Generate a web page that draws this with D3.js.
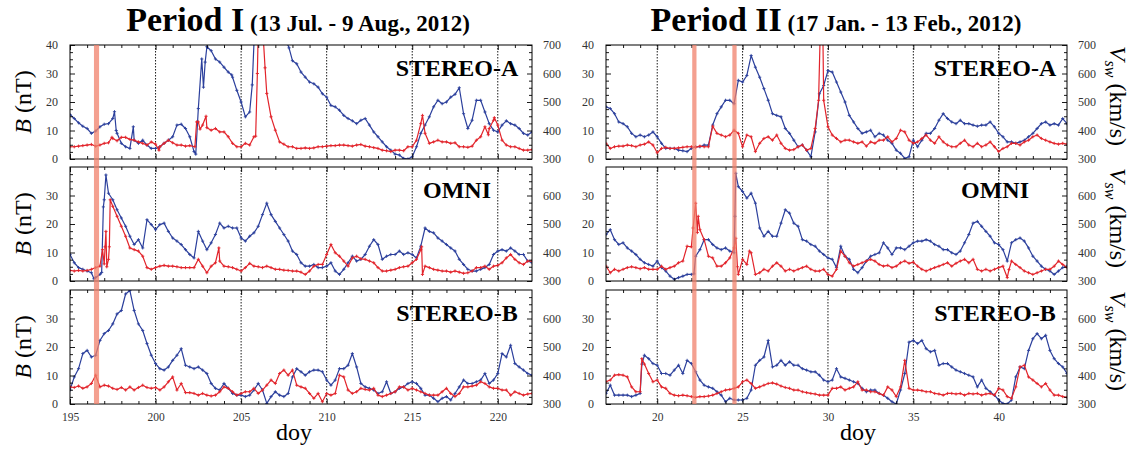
<!DOCTYPE html>
<html>
<head>
<meta charset="utf-8">
<script src="https://cdn.jsdelivr.net/npm/d3@7"></script>
<style>
  body { margin: 0; background: #fff; }
  text { font-family: "Liberation Serif", "Times New Roman", serif; }
</style>
</head>
<body>
<svg id="chart" width="1135" height="455"></svg>
<script>
// ---- Period I (doy 195-222, 2012) : [doy, value] ----
const stereoA1_V = [[195,456],[195.25,442],[195.5,427],[195.75,415],[196,407],[196.25,390],[196.5,398],[196.75,413],[197,422],[197.25,424],[197.5,442],[197.6,466],[197.7,400],[197.75,390],[198,355],[198.25,343],[198.5,337],[198.7,413],[198.75,366],[199,355],[199.25,366],[199.5,349],[199.75,337],[200,337],[200.25,343],[200.5,355],[200.75,366],[201,378],[201.25,419],[201.5,422],[201.75,407],[202,378],[202.25,326],[202.35,317],[202.5,477],[202.7,651],[202.8,552],[202.9,640],[203,694],[203.25,680],[203.5,651],[203.75,640],[204,622],[204.25,605],[204.45,595],[204.5,587],[204.75,541],[205,500],[205.25,448],[205.5,465],[205.65,560],[205.75,705],[206,760],[206.5,790],[207,780],[207.5,740],[207.7,705],[207.8,690],[208,645],[208.25,634],[208.5,605],[208.75,587],[209,570],[209.25,564],[209.5,552],[209.75,529],[210,517],[210.25,488],[210.5,483],[210.75,471],[211,453],[211.25,442],[211.5,434],[211.75,424],[212,436],[212.25,442],[212.5,419],[212.75,395],[213,378],[213.25,360],[213.5,343],[213.75,331],[214,317],[214.25,314],[214.5,302],[214.75,300],[215,308],[215.25,343],[215.5,390],[215.75,419],[216,448],[216.25,483],[216.5,506],[216.75,494],[217,500],[217.25,517],[217.5,527],[217.75,550],[218,459],[218.25,407],[218.5,436],[218.75,506],[219,506],[219.25,465],[219.5,424],[219.75,401],[220,395],[220.25,419],[220.5,434],[220.75,424],[221,419],[221.25,407],[221.5,390],[221.75,384],[222,395]];
const stereoA1_B = [[195,4.3],[195.25,4.3],[195.5,4.5],[195.75,4.7],[196,4.9],[196.25,5.1],[196.5,4.5],[196.75,4.9],[197,5.5],[197.25,5.7],[197.45,7.6],[197.5,7.2],[197.75,6.4],[198,7.6],[198.25,7.6],[198.5,6.9],[198.75,6.6],[199,6],[199.25,5.5],[199.5,4.9],[199.75,6],[200,5.2],[200.2,3.1],[200.25,4.3],[200.5,5.5],[200.75,6.6],[201,5.7],[201.25,4.9],[201.5,4.9],[201.75,4.5],[202,4.7],[202.3,4.3],[202.4,13],[202.5,13],[202.6,10.5],[202.75,11.9],[202.95,15],[203,11],[203.25,10.1],[203.5,10.7],[203.75,9.5],[204,9.5],[204.25,7.8],[204.5,5.5],[204.75,4.3],[205,4.3],[205.25,5.5],[205.5,4.9],[205.75,7.8],[205.85,8],[205.95,30],[206,45],[206.25,50],[206.3,42],[206.4,32],[206.5,23],[206.75,14.8],[207,10.1],[207.25,6],[207.5,5.2],[207.75,4.3],[208,4.3],[208.25,3.7],[208.5,3.7],[208.75,3.9],[209,3.7],[209.25,3.9],[209.5,4.3],[209.75,4.3],[210,4.5],[210.25,4.7],[210.5,4.7],[210.75,4.9],[211,4.9],[211.25,4.7],[211.5,4.5],[211.75,4.9],[212,5.1],[212.25,4.5],[212.5,4.3],[212.75,4],[213,3.7],[213.25,3.1],[213.5,2.9],[213.75,2.6],[214,3.1],[214.25,3.1],[214.5,2.9],[214.75,4.3],[215,4.3],[215.25,6.6],[215.5,12.4],[215.6,15.3],[215.75,9],[216,5.5],[216.25,6],[216.5,6.6],[216.75,6],[217,6],[217.25,5.5],[217.5,5.7],[217.75,4.3],[218,4.3],[218.25,4.1],[218.5,4.5],[218.75,6.6],[219,7.8],[219.25,11.3],[219.45,8.5],[219.5,10.7],[219.75,13.6],[219.8,14.5],[220,11.9],[220.25,6.6],[220.5,4.9],[220.75,4.3],[221,4.3],[221.25,3.7],[221.5,3.1],[221.75,3.1],[222,3.3]];
const omni1_V = [[195,393],[195.25,364],[195.5,347],[195.75,341],[196,335],[196.25,329],[196.4,308],[196.5,312],[196.75,323],[196.85,330],[196.95,560],[197,585],[197.1,672],[197.25,608],[197.5,585],[197.75,550],[198,521],[198.25,492],[198.5,457],[198.75,428],[199,445],[199.25,416],[199.5,515],[199.75,498],[200,480],[200.25,498],[200.5,503],[200.75,474],[201,451],[201.25,440],[201.5,428],[201.75,410],[202,393],[202.25,381],[202.5,474],[202.75,440],[203,410],[203.25,434],[203.5,463],[203.75,503],[204,486],[204.25,492],[204.5,486],[204.75,486],[205,451],[205.25,440],[205.5,457],[205.75,469],[206,492],[206.25,533],[206.5,573],[206.75,533],[207,509],[207.25,486],[207.5,463],[207.75,440],[208,405],[208.25,393],[208.5,364],[208.75,352],[209,352],[209.25,358],[209.5,347],[209.75,347],[210,352],[210.25,364],[210.5,335],[210.75,323],[211,341],[211.25,364],[211.5,387],[211.75,370],[212,376],[212.25,393],[212.5,422],[212.75,445],[213,428],[213.25,376],[213.5,387],[213.75,393],[214,393],[214.25,405],[214.5,393],[214.75,399],[215,393],[215.25,381],[215.5,422],[215.75,486],[216,474],[216.25,469],[216.5,451],[216.75,440],[217,428],[217.25,416],[217.5,405],[217.75,376],[218,358],[218.25,341],[218.5,335],[218.75,335],[219,341],[219.25,347],[219.5,358],[219.75,393],[220,405],[220.25,410],[220.5,405],[220.75,416],[221,405],[221.25,393],[221.5,393],[221.75,370],[222,364]];
const omni1_B = [[195,3.7],[195.25,3.5],[195.5,3.7],[195.75,3.5],[196,3.7],[196.25,4.1],[196.5,4.7],[196.75,5.2],[196.9,11],[197,6],[197.05,12],[197.1,17.4],[197.15,5],[197.25,7.6],[197.3,12],[197.35,28.5],[197.5,26.2],[197.75,22.7],[198,19.2],[198.25,15.7],[198.5,11.6],[198.75,11],[199,10.5],[199.25,8.7],[199.5,4.7],[199.75,4.1],[200,4.7],[200.25,5.2],[200.5,5.5],[200.75,5.2],[201,5.2],[201.25,5],[201.5,4.7],[201.75,4.7],[202,4.7],[202.25,4.7],[202.5,7.6],[202.75,5.2],[203,2.9],[203.25,5.2],[203.5,6.4],[203.7,11.6],[203.75,7],[204,5.2],[204.25,5],[204.5,4.7],[204.75,4.1],[205,3.5],[205.25,4.7],[205.5,6.2],[205.75,5.2],[206,5],[206.25,4.7],[206.5,5.2],[206.75,4.7],[207,4.1],[207.25,4.1],[207.5,3.8],[207.75,3.7],[208,3.5],[208.25,3.5],[208.5,3.1],[208.75,2.3],[209,3.5],[209.25,5.2],[209.5,5.8],[209.75,5.8],[210,9.3],[210.25,12.8],[210.5,9.9],[210.75,8.7],[211,7],[211.25,5.2],[211.5,8.1],[211.75,8.7],[212,7.8],[212.25,7.6],[212.5,7],[212.75,6.4],[213,4.7],[213.25,3.5],[213.5,3.5],[213.75,3.8],[214,4.1],[214.25,4.7],[214.5,5],[214.75,5.2],[215,6.4],[215.25,7.6],[215.5,11],[215.55,12],[215.6,2.3],[215.75,5.2],[216,4.7],[216.25,4.1],[216.5,3.8],[216.75,3.5],[217,3.5],[217.25,3.1],[217.5,3.5],[217.75,3.1],[218,2.7],[218.25,2.9],[218.5,3.5],[218.75,4.7],[219,4.7],[219.25,5.2],[219.5,4.1],[219.75,5.2],[220,5.5],[220.25,6.4],[220.5,8.1],[220.75,9.3],[221,7.6],[221.25,6.4],[221.5,5.8],[221.75,7],[222,7]];
const stereoB1_V = [[195,349],[195.25,395],[195.5,424],[195.75,477],[196,488],[196.25,465],[196.5,471],[196.75,523],[197,547],[197.25,558],[197.5,581],[197.75,616],[198,628],[198.25,686],[198.5,698],[198.75,628],[199,581],[199.25,558],[199.5,512],[199.75,471],[200,442],[200.25,424],[200.5,419],[200.75,430],[201,453],[201.25,471],[201.5,494],[201.75,436],[202,430],[202.25,424],[202.5,430],[202.75,419],[203,407],[203.25,372],[203.5,355],[203.75,349],[204,372],[204.25,355],[204.5,337],[204.75,331],[205,331],[205.25,326],[205.5,331],[205.75,349],[206,372],[206.25,349],[206.5,302],[206.75,326],[207,343],[207.25,331],[207.5,326],[207.75,337],[208,395],[208.25,424],[208.5,413],[208.75,401],[209,413],[209.25,419],[209.5,419],[209.75,413],[210,384],[210.25,366],[210.5,384],[210.75,424],[211,424],[211.25,436],[211.5,477],[211.75,430],[212,372],[212.25,360],[212.5,355],[212.75,349],[213,337],[213.25,343],[213.5,378],[213.75,337],[214,343],[214.25,355],[214.5,360],[214.75,372],[215,378],[215.25,372],[215.5,355],[215.75,331],[216,331],[216.25,320],[216.5,308],[216.75,320],[217,326],[217.25,314],[217.5,337],[217.75,360],[218,384],[218.25,372],[218.5,372],[218.75,378],[219,384],[219.25,407],[219.5,372],[219.75,384],[220,407],[220.25,477],[220.5,465],[220.75,506],[221,442],[221.25,430],[221.5,419],[221.75,407],[222,401]];
const stereoB1_B = [[195,6],[195.25,5.8],[195.5,6.3],[195.75,5.5],[196,6],[196.25,7.2],[196.5,10.1],[196.75,6],[197,6.6],[197.25,6.3],[197.5,5.5],[197.75,5.1],[198,5.8],[198.25,4.9],[198.5,6],[198.75,4.9],[199,5.8],[199.25,6.6],[199.5,5.8],[199.75,5.5],[200,5.8],[200.25,4.9],[200.5,6],[200.75,7.8],[201,9.5],[201.25,4.9],[201.5,7.2],[201.75,4],[202,4],[202.25,3.7],[202.5,3.1],[202.75,3.7],[203,3.1],[203.25,2.8],[203.5,3.1],[203.75,4.3],[204,6],[204.25,5.5],[204.5,4.3],[204.75,3.1],[205,3.7],[205.25,4.3],[205.5,4.3],[205.75,5.5],[206,3.7],[206.25,4.9],[206.5,6.6],[206.75,8.4],[207,7.2],[207.25,10.7],[207.5,11.9],[207.75,10.1],[208,11.9],[208.25,6.6],[208.5,6],[208.75,5.5],[209,3.7],[209.25,2],[209.5,3.7],[209.75,0.8],[210,3.7],[210.25,3.1],[210.5,3.7],[210.75,10.1],[211,9.5],[211.25,4.9],[211.5,3.7],[211.75,4.3],[212,5.5],[212.25,5.1],[212.5,4.9],[212.75,5.5],[213,3.1],[213.25,2.6],[213.5,3.1],[213.75,3.7],[214,4.3],[214.25,6],[214.5,6],[214.75,4.9],[215,5.5],[215.25,4.9],[215.5,4.3],[215.75,3.7],[216,3.1],[216.25,3.1],[216.5,3.1],[216.75,4.3],[217,5.5],[217.25,3.7],[217.5,2.6],[217.75,3.7],[218,6],[218.25,6],[218.5,6.3],[218.75,6.6],[219,7.8],[219.25,7.2],[219.5,6],[219.75,5.5],[220,5.5],[220.25,4.9],[220.5,4.9],[220.75,3.1],[221,4.3],[221.25,3.7],[221.5,3.1],[221.75,3.5],[222,3.7]];

// ---- Period II (doy 17-44, 2012) : [doy, value] ----
const stereoA2_V = [[17,483],[17.25,477],[17.5,459],[17.75,430],[18,424],[18.25,413],[18.5,390],[18.75,378],[19,384],[19.25,378],[19.5,384],[19.75,395],[20,378],[20.25,355],[20.5,337],[20.75,337],[21,337],[21.25,331],[21.5,329],[21.75,326],[22,337],[22.25,343],[22.5,343],[22.75,349],[23,349],[23.25,419],[23.5,459],[23.75,483],[24,506],[24.25,506],[24.5,494],[24.75,576],[25,570],[25.25,593],[25.5,663],[25.75,622],[26,587],[26.25,547],[26.5,506],[26.75,459],[27,453],[27.25,448],[27.5,407],[27.75,390],[28,366],[28.25,343],[28.5,349],[28.75,331],[29,308],[29.25,395],[29.5,529],[29.75,558],[30,610],[30.25,605],[30.5,570],[30.75,535],[31,500],[31.25,453],[31.5,430],[31.75,407],[32,390],[32.25,395],[32.5,401],[32.75,378],[33,390],[33.25,384],[33.5,366],[33.75,355],[34,331],[34.25,320],[34.5,302],[34.75,308],[35,366],[35.25,343],[35.5,366],[35.75,390],[36,390],[36.25,407],[36.5,436],[36.75,459],[37,442],[37.25,430],[37.5,424],[37.75,436],[38,424],[38.25,424],[38.5,419],[38.75,415],[39,419],[39.25,419],[39.5,430],[39.75,413],[40,390],[40.25,378],[40.5,360],[40.75,360],[41,355],[41.25,360],[41.5,366],[41.75,378],[42,390],[42.25,407],[42.5,424],[42.75,430],[43,419],[43.25,424],[43.5,419],[43.75,442],[44,424]];
const stereoA2_B = [[17,5.5],[17.25,3.7],[17.5,4.3],[17.75,4.5],[18,4.5],[18.25,4.9],[18.5,4.7],[18.75,4.3],[19,4.9],[19.25,5.2],[19.5,6],[19.75,4.9],[20,2.2],[20.25,3.7],[20.5,4.1],[20.75,3.7],[21,3.7],[21.25,3.9],[21.5,4.1],[21.75,4.3],[22,4.3],[22.25,4.1],[22.5,4.5],[22.75,4.3],[23,4.3],[23.25,11.5],[23.5,9],[23.75,8.4],[24,7.8],[24.25,8.4],[24.5,10.1],[24.75,9],[25,4.3],[25.25,8.4],[25.5,7.8],[25.75,2.6],[26,5.5],[26.25,7.2],[26.5,7.8],[26.75,6.6],[27,8.4],[27.25,5.5],[27.5,3.7],[27.75,3.1],[28,3.3],[28.25,4.3],[28.5,4.9],[28.75,3.1],[29,3.7],[29.25,10.7],[29.45,20.6],[29.55,45],[29.7,45],[29.75,20.6],[30,11.3],[30.25,8.4],[30.5,7.2],[30.75,6],[31,6.6],[31.25,6.6],[31.5,6],[31.75,5.5],[32,6],[32.25,4.5],[32.5,6],[32.75,5.5],[33,6.6],[33.25,6.6],[33.5,7.8],[33.75,6],[34,7.2],[34.25,10.1],[34.5,9.5],[34.75,6.6],[35,5.5],[35.25,6],[35.5,7.2],[35.75,8.4],[36,6.6],[36.25,5.5],[36.5,7.8],[36.75,6],[37,4.9],[37.25,4.3],[37.5,4.3],[37.75,5.5],[38,6.6],[38.25,4.9],[38.5,4.3],[38.75,5.5],[39,4.3],[39.25,4.9],[39.5,6],[39.75,4.3],[40,2.6],[40.25,3.7],[40.5,4.3],[40.75,5.5],[41,5.5],[41.25,4.9],[41.5,6],[41.75,6.6],[42,7.8],[42.25,8.4],[42.5,7.2],[42.75,6.6],[43,6],[43.25,5.5],[43.5,5.2],[43.75,5.5],[44,5.2]];
const omni2_V = [[17,463],[17.25,480],[17.5,445],[17.75,428],[18,434],[18.25,416],[18.5,405],[18.75,393],[19,376],[19.25,364],[19.5,358],[19.75,352],[20,370],[20.25,347],[20.5,335],[20.75,317],[21,306],[21.25,312],[21.5,317],[21.75,323],[22,323],[22.15,325],[22.25,387],[22.5,410],[22.75,445],[23,445],[23.25,428],[23.5,416],[23.75,410],[24,416],[24.25,405],[24.5,399],[24.55,527],[24.6,678],[24.75,631],[25,614],[25.25,591],[25.5,608],[25.75,573],[26,486],[26.25,457],[26.5,474],[26.75,457],[27,457],[27.25,503],[27.5,550],[27.75,538],[28,503],[28.25,492],[28.5,445],[28.75,440],[29,428],[29.25,422],[29.5,405],[29.75,393],[30,381],[30.25,376],[30.5,347],[30.75,422],[31,387],[31.25,376],[31.5,341],[31.75,329],[32,347],[32.25,370],[32.5,387],[32.75,393],[33,399],[33.25,434],[33.5,416],[33.75,393],[34,416],[34.25,416],[34.5,410],[34.75,422],[35,434],[35.25,440],[35.5,440],[35.75,445],[36,440],[36.25,428],[36.5,422],[36.75,410],[37,410],[37.25,399],[37.5,393],[37.75,405],[38,434],[38.25,463],[38.5,503],[38.75,509],[39,492],[39.25,474],[39.5,457],[39.75,434],[40,428],[40.25,410],[40.5,370],[40.75,434],[41,445],[41.25,451],[41.5,440],[41.75,416],[42,387],[42.25,370],[42.5,352],[42.75,341],[43,335],[43.25,323],[43.5,335],[43.75,347],[44,352]];
const omni2_B = [[17,5.2],[17.25,2.9],[17.5,4.1],[17.75,3.5],[18,4.1],[18.25,4.7],[18.5,5],[18.75,4.7],[19,4.3],[19.25,4.7],[19.5,4.1],[19.75,4.1],[20,4.1],[20.25,5.2],[20.5,4.1],[20.75,4.7],[21,5.2],[21.25,6.4],[21.5,7],[21.75,12.2],[22,12],[22.1,18.6],[22.25,27.3],[22.35,17],[22.4,22.7],[22.5,18],[22.75,14.5],[23,8.7],[23.25,8.1],[23.5,5.2],[23.75,5.2],[24,6.4],[24.25,8.1],[24.5,11.6],[24.6,15],[24.7,5],[24.75,2.3],[25,7.6],[25.25,5.8],[25.4,10.5],[25.5,9.9],[25.75,2.3],[26,2.9],[26.25,4.1],[26.5,3.5],[26.75,5.2],[27,6.4],[27.25,5.2],[27.5,3.5],[27.75,4.1],[28,3.5],[28.25,4.1],[28.5,4.7],[28.75,5.2],[29,4.1],[29.25,3.5],[29.5,3.5],[29.75,4.1],[30,2.3],[30.25,1.7],[30.5,4.1],[30.75,10.5],[31,8.7],[31.25,6.4],[31.5,5.2],[31.75,5.8],[32,6.4],[32.25,7],[32.5,7.6],[32.75,7],[33,5.8],[33.25,5.2],[33.5,5.5],[33.75,4.7],[34,5.2],[34.25,6.4],[34.5,7],[34.75,6.2],[35,6.6],[35.25,5.2],[35.5,4.1],[35.75,3.5],[36,4.1],[36.25,4.7],[36.5,5.2],[36.75,5.8],[37,6.4],[37.25,5.2],[37.5,6.2],[37.75,7],[38,7.6],[38.25,6.4],[38.5,7.6],[38.75,4.1],[39,3.5],[39.25,4.1],[39.5,3.5],[39.75,4.1],[40,4.7],[40.25,5.2],[40.5,1.2],[40.6,4],[40.75,7],[41,5.8],[41.25,4.7],[41.5,3.5],[41.75,2.9],[42,2.3],[42.25,2.9],[42.5,3.5],[42.75,4.1],[43,4.1],[43.25,5.2],[43.5,7],[43.75,5.8],[44,4.7]];
const stereoB2_V = [[17,337],[17.25,366],[17.5,331],[17.75,331],[18,331],[18.25,331],[18.5,326],[18.75,331],[19,337],[19.1,440],[19.25,471],[19.5,459],[19.75,442],[20,436],[20.25,407],[20.5,407],[20.75,401],[21,419],[21.25,436],[21.5,407],[21.75,453],[22,442],[22.25,413],[22.5,384],[22.75,366],[23,360],[23.25,355],[23.5,343],[23.75,331],[24,308],[24.25,320],[24.5,314],[24.75,314],[25,314],[25.25,320],[25.5,349],[25.75,436],[26,453],[26.25,465],[26.5,523],[26.75,430],[27,436],[27.25,453],[27.5,436],[27.75,448],[28,436],[28.25,436],[28.5,424],[28.75,419],[29,413],[29.25,413],[29.5,401],[29.75,384],[30,378],[30.25,384],[30.5,424],[30.75,395],[31,390],[31.25,384],[31.5,378],[31.75,372],[32,355],[32.25,343],[32.5,349],[32.75,349],[33,337],[33.25,331],[33.5,320],[33.75,308],[34,300],[34.25,349],[34.5,407],[34.75,517],[35,523],[35.25,512],[35.5,523],[35.75,494],[36,483],[36.25,488],[36.5,436],[36.75,442],[37,442],[37.25,430],[37.5,419],[37.75,413],[38,407],[38.25,401],[38.5,395],[38.75,360],[39,384],[39.25,355],[39.5,343],[39.75,331],[40,314],[40.25,302],[40.5,300],[40.75,314],[41,395],[41.25,430],[41.5,424],[41.75,488],[42,529],[42.25,547],[42.5,529],[42.75,541],[43,488],[43.25,459],[43.5,442],[43.75,430],[44,407]];
const stereoB2_B = [[17,7.8],[17.25,8.4],[17.5,10.1],[17.75,10.3],[18,10.1],[18.25,9.5],[18.5,6],[18.75,4.3],[19,4.3],[19.1,15.9],[19.25,14],[19.5,10.7],[19.75,7.8],[20,8.4],[20.25,6],[20.5,5.5],[20.75,3.7],[21,3.1],[21.25,2.9],[21.5,3.1],[21.75,2.9],[22,2.6],[22.25,2.3],[22.5,2.6],[22.75,2.6],[23,2.8],[23.25,3.1],[23.5,3.7],[23.75,4.3],[24,4.9],[24.25,5.1],[24.5,5.5],[24.75,6],[25,7.8],[25.25,8.4],[25.5,7.2],[25.75,5.5],[26,6],[26.25,6.6],[26.5,7.2],[26.75,7.4],[27,7],[27.25,6.3],[27.5,5.8],[27.75,5.5],[28,4.9],[28.25,4.9],[28.5,4.3],[28.75,4],[29,3.7],[29.25,3.5],[29.5,3.1],[29.75,3.1],[30,3.1],[30.25,5.5],[30.5,5.5],[30.75,6],[31,4.9],[31.25,5.5],[31.5,6],[31.75,7.8],[32,4.9],[32.25,4.9],[32.5,4.3],[32.75,4.3],[33,3.7],[33.25,3.1],[33.5,6],[33.75,4.9],[34,2.6],[34.25,6],[34.5,15.3],[34.75,5.5],[35,4.9],[35.25,4.9],[35.5,4.7],[35.75,4.3],[36,4.3],[36.25,3.7],[36.5,3.5],[36.75,3.1],[37,3.7],[37.25,3.7],[37.5,3.5],[37.75,3.7],[38,3.1],[38.25,3.7],[38.5,3.5],[38.75,3.7],[39,3.1],[39.25,3.5],[39.5,3.7],[39.75,3.1],[40,5.5],[40.25,4.9],[40.5,2.6],[40.75,2],[41,6],[41.25,13],[41.5,13.6],[41.75,9.5],[42,8.4],[42.25,7.2],[42.5,6],[42.75,7.2],[43,4.9],[43.25,3.1],[43.5,3.1],[43.75,2.6],[44,2.3]];

// ---- axes, labels and highlighted intervals ----
const period1Days = [195, 222];
const period2Days = [17, 44];
const period1Ticks = [195, 200, 205, 210, 215, 220];
const period2Ticks = [20, 25, 30, 35, 40];
const period1Events = [[196.4, 196.7]];
const period2Events = [[22.05, 22.3], [24.4, 24.65]];
const bDomain = [0, 40];
const vDomain = [300, 700];
const bTicksTop = [0, 10, 20, 30, 40];
const bTicks = [0, 10, 20, 30];
const vTicksTop = [300, 400, 500, 600, 700];
const vTicks = [300, 400, 500, 600];
const spacecraft = ["STEREO-A", "OMNI", "STEREO-B"];
const periodTitles = ["Period I", "Period II"];
const periodDates = ["(13 Jul. - 9 Aug., 2012)", "(17 Jan. - 13 Feb., 2012)"];

const BLUE = "#2b3f9c", RED = "#e2242b", BAND = "#f0806b";
const svg = d3.select("#chart");
svg.append("rect").attr("width", 1135).attr("height", 455).attr("fill", "#fff");

const rows = [{ top: 45, h: 114 }, { top: 167, h: 114 }, { top: 290, h: 114 }];
const cols = [
  { x0: 70, x1: 532, days: period1Days, ticks: period1Ticks, events: period1Events,
    series: [[stereoA1_V, stereoA1_B], [omni1_V, omni1_B], [stereoB1_V, stereoB1_B]],
    bTitle: true, vTitle: false, labelDx: 75, titleX: 298, doyX: 294 },
  { x0: 606, x1: 1067, days: period2Days, ticks: period2Ticks, events: period2Events,
    series: [[stereoA2_V, stereoA2_B], [omni2_V, omni2_B], [stereoB2_V, stereoB2_B]],
    bTitle: false, vTitle: true, labelDx: 72, titleX: 836, doyX: 858 }
];

// small "+" marker drawn at every sample
const PLUS = "M-1.6,0H1.6M0,-1.6V1.6";

function styleAxis(g, size) {
  g.select(".domain").remove();
  g.selectAll("line").attr("stroke", "#000").attr("stroke-width", 0.9);
  g.selectAll("text").attr("font-family", "Liberation Serif, serif").attr("font-size", size).attr("fill", "#333");
}

function drawSeries(plot, data, x, y, color) {
  plot.append("path").datum(data)
    .attr("d", d3.line().x(d => x(d[0])).y(d => y(d[1])))
    .attr("fill", "none").attr("stroke", color).attr("stroke-width", 1.2).attr("stroke-linejoin", "round");
  plot.append("g").selectAll("path").data(data).join("path")
    .attr("transform", d => `translate(${x(d[0])},${y(d[1])})`)
    .attr("d", PLUS).attr("stroke", color).attr("stroke-width", 0.9).attr("fill", "none");
}

cols.forEach((c, ci) => {
  const x = d3.scaleLinear().domain(c.days).range([c.x0, c.x1]);
  const minorDays = d3.range(c.days[0] + 1, c.days[1]).filter(d => d % 5 !== 0);
  const majorDays = d3.range(c.days[0], c.days[1] + 1).filter(d => d % 5 === 0);

  // title
  const t = svg.append("text")
    .attr("x", c.titleX).attr("y", 31)
    .attr("text-anchor", "middle").attr("font-weight", "bold").attr("fill", "#000");
  t.append("tspan").attr("font-size", 34).text(periodTitles[ci]);
  t.append("tspan").attr("font-size", 23).text(" " + periodDates[ci]);

  rows.forEach((r, ri) => {
    const bottom = r.top + r.h;
    const yB = d3.scaleLinear().domain(bDomain).range([bottom, r.top]);
    const yV = d3.scaleLinear().domain(vDomain).range([bottom, r.top]);
    const clipId = `clip-${ci}-${ri}`;
    svg.append("clipPath").attr("id", clipId)
      .append("rect").attr("x", c.x0).attr("y", r.top).attr("width", c.x1 - c.x0).attr("height", r.h);

    // dotted day markers every 5 days
    svg.append("g").selectAll("line").data(majorDays.filter(d => d > c.days[0] && d < c.days[1]))
      .join("line")
      .attr("x1", d => x(d)).attr("x2", d => x(d))
      .attr("y1", r.top).attr("y2", bottom)
      .attr("stroke", "#000").attr("stroke-width", 0.9).attr("stroke-dasharray", "1.5,1.5");

    // data: solar-wind speed (blue) and field magnitude (red)
    const plot = svg.append("g").attr("clip-path", `url(#${clipId})`);
    const [vData, bData] = c.series[ri];
    drawSeries(plot, vData, x, yV, BLUE);
    drawSeries(plot, bData, x, yB, RED);

    // left axis (B)
    const gl = svg.append("g").attr("transform", `translate(${c.x0},0)`)
      .call(d3.axisLeft(yB).tickValues(ri === 0 ? bTicksTop : bTicks).tickSize(-5).tickPadding(12));
    styleAxis(gl, 12);
    const glm = svg.append("g").attr("transform", `translate(${c.x0},0)`)
      .call(d3.axisLeft(yB).tickValues(d3.range(2.5, 40, 2.5).filter(v => v % 10 !== 0)).tickSize(-3).tickFormat(""));
    styleAxis(glm, 12);
    // right axis (V)
    const gr = svg.append("g").attr("transform", `translate(${c.x1},0)`)
      .call(d3.axisRight(yV).tickValues(ri === 0 ? vTicksTop : vTicks).tickSize(-5).tickPadding(11));
    styleAxis(gr, 12);
    const grm = svg.append("g").attr("transform", `translate(${c.x1},0)`)
      .call(d3.axisRight(yV).tickValues(d3.range(325, 700, 25).filter(v => v % 100 !== 0)).tickSize(-3).tickFormat(""));
    styleAxis(grm, 12);
    // top and bottom day ticks
    [[r.top, d3.axisTop], [bottom, d3.axisBottom]].forEach(([yy, ax]) => {
      const gM = svg.append("g").attr("transform", `translate(0,${yy})`)
        .call(ax(x).tickValues(majorDays).tickSize(-5).tickFormat(""));
      styleAxis(gM, 12);
      const gm = svg.append("g").attr("transform", `translate(0,${yy})`)
        .call(ax(x).tickValues(minorDays).tickSize(-3).tickFormat(""));
      styleAxis(gm, 12);
    });
    if (ri === rows.length - 1) {
      const gx = svg.append("g").attr("transform", `translate(0,${bottom})`)
        .call(d3.axisBottom(x).tickValues(c.ticks).tickSize(0).tickPadding(9));
      styleAxis(gx, 11.5);
    }

    // frame
    svg.append("rect").attr("x", c.x0).attr("y", r.top).attr("width", c.x1 - c.x0).attr("height", r.h)
      .attr("fill", "none").attr("stroke", "#000").attr("stroke-width", 1);

    // spacecraft label
    svg.append("text").attr("x", c.x1 - c.labelDx).attr("y", r.top + 31)
      .attr("text-anchor", "middle").attr("font-weight", "bold").attr("font-size", 24)
      .attr("fill", "#000").text(spacecraft[ri]);

    // axis titles
    const cy = r.top + r.h / 2;
    if (c.bTitle) {
      const bt = svg.append("text").attr("transform", `translate(31,${cy}) rotate(-90)`)
        .attr("text-anchor", "middle").attr("font-size", 24).attr("fill", "#000");
      bt.append("tspan").attr("font-style", "italic").text("B");
      bt.append("tspan").text(" (nT)");
    }
    if (c.vTitle) {
      const vt = svg.append("text").attr("transform", `translate(1110,${cy - 6}) rotate(90)`)
        .attr("text-anchor", "middle").attr("font-size", 24).attr("fill", "#000");
      vt.append("tspan").attr("font-style", "italic").text("V");
      vt.append("tspan").attr("font-style", "italic").attr("font-size", 16).attr("dy", 5).text("sw");
      vt.append("tspan").attr("dy", -5).text(" (km/s)");
    }
  });

  // highlighted intervals spanning the three panels
  svg.append("g").selectAll("rect").data(c.events).join("rect")
    .attr("x", d => x(d[0])).attr("width", d => x(d[1]) - x(d[0]))
    .attr("y", rows[0].top).attr("height", rows[2].top + rows[2].h - rows[0].top)
    .attr("fill", BAND).attr("opacity", 0.75);

  // x-axis title
  svg.append("text").attr("x", c.doyX).attr("y", 440)
    .attr("text-anchor", "middle").attr("font-size", 24).attr("fill", "#000").text("doy");
});
</script>
</body>
</html>
